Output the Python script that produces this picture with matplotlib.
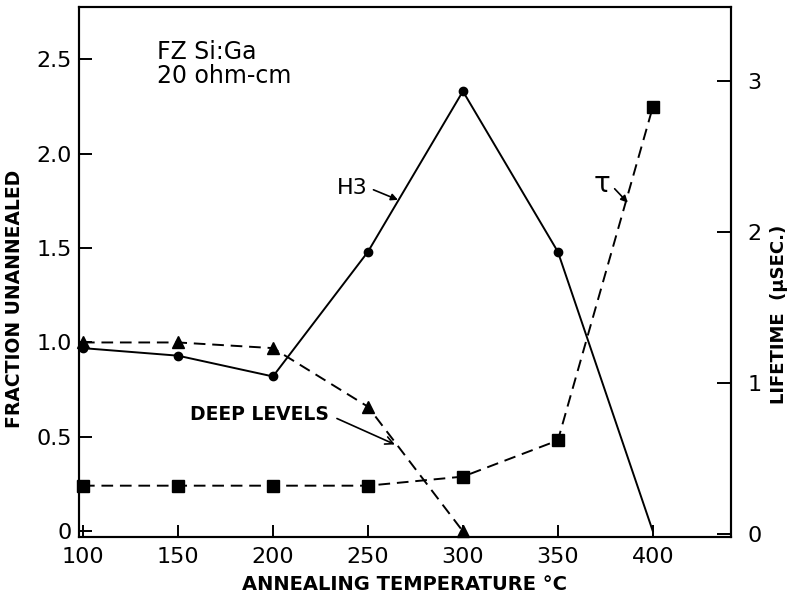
import numpy as np
import matplotlib
matplotlib.use("Agg")
import matplotlib.pyplot as plt

# Data
temps = [100, 150, 200, 250, 300, 350, 400]
h3 = [0.97, 0.93, 0.82, 1.48, 2.33, 1.48, 0.0]          # fraction unannealed
deep_temps = [100, 150, 200, 250, 300]
deep_levels = [1.0, 1.0, 0.97, 0.66, 0.0]               # fraction unannealed
tau = [0.32, 0.32, 0.32, 0.32, 0.38, 0.62, 2.83]        # lifetime, usec

left_ticks = [0, 0.5, 1.0, 1.5, 2.0, 2.5]
left_ticklabels = ["0", "0.5", "1.0", "1.5", "2.0", "2.5"]
right_ticks = [0, 1, 2, 3]
x_ticks = [100, 150, 200, 250, 300, 350, 400]

plt.rcParams['font.family'] = ['DejaVu Sans']

fig, ax = plt.subplots(figsize=(7.9, 6.0), dpi=100)
fig.subplots_adjust(left=0.1, right=0.925, top=0.988, bottom=0.105)
ax2 = ax.twinx()

dash = (0, (6, 3.5))

# H3 (solid, circles)
ax.plot(temps[:-1], h3[:-1], color='black', lw=1.4, marker='o', ms=6, zorder=3)
ax.plot(temps[-2:], h3[-2:], color='black', lw=1.4, zorder=3)
# deep levels (dashed, triangles)
ax.plot(deep_temps, deep_levels, color='black', lw=1.4, ls=dash,
        marker='^', ms=8, clip_on=False, zorder=3)
# lifetime (dashed, squares) on right axis
ax2.plot(temps, tau, color='black', lw=1.4, ls=dash,
         marker='s', ms=8, clip_on=False, zorder=3)

ax.set_xlim(97.9, 441)
ax.set_ylim(-0.03, 2.775)
ax2.set_ylim(-0.02, 3.49)

ax.set_xticks(x_ticks)
ax.set_yticks(left_ticks)
ax.set_yticklabels(left_ticklabels)
ax2.set_yticks(right_ticks)

for a in (ax, ax2):
    for s in a.spines.values():
        s.set_linewidth(1.5)
ax.tick_params(axis='both', direction='in', length=9, width=1.4,
               labelsize=16, pad=5)
ax.tick_params(axis='x', pad=7)
ax2.tick_params(axis='y', direction='in', length=10, width=1.4,
                labelsize=16, pad=12)

ax.set_xlabel("ANNEALING TEMPERATURE °C", fontsize=14, fontweight='bold',
              labelpad=6)
ax.set_ylabel("FRACTION UNANNEALED", fontsize=13.5, fontweight='bold')
ax.yaxis.set_label_coords(-0.085, 0.45)
ax2.set_ylabel("LIFETIME  (μSEC.)", fontsize=13, fontweight='bold',
               rotation=90)
ax2.yaxis.set_label_coords(1.06, 0.42)

# annotations
ax.text(139, 2.6, "FZ Si:Ga\n20 ohm-cm", fontsize=17, ha='left', va='top',
        linespacing=1.0)
ax.annotate("H3", xy=(265.8, 1.755), xytext=(242, 1.82), fontsize=16,
            ha='center', va='center',
            arrowprops=dict(arrowstyle='-|>', color='black', lw=1.2,
                            mutation_scale=10, shrinkA=2, shrinkB=0,
                            relpos=(1, 0.5)))
ax.annotate("τ", xy=(386.8, 1.74), xytext=(373, 1.84), fontsize=20,
            ha='center', va='center',
            arrowprops=dict(arrowstyle='-|>', color='black', lw=1.2,
                            mutation_scale=10, shrinkA=2, shrinkB=0,
                            relpos=(1, 0.5)))
ax.annotate("DEEP LEVELS", xy=(264.2, 0.46), xytext=(193, 0.616),
            fontsize=13.5, fontweight='bold', ha='center', va='center',
            arrowprops=dict(arrowstyle='->', color='black', lw=1.2,
                            mutation_scale=14, shrinkA=4, shrinkB=0,
                            relpos=(1, 0.5)))

plt.savefig("out.png", dpi=100)
